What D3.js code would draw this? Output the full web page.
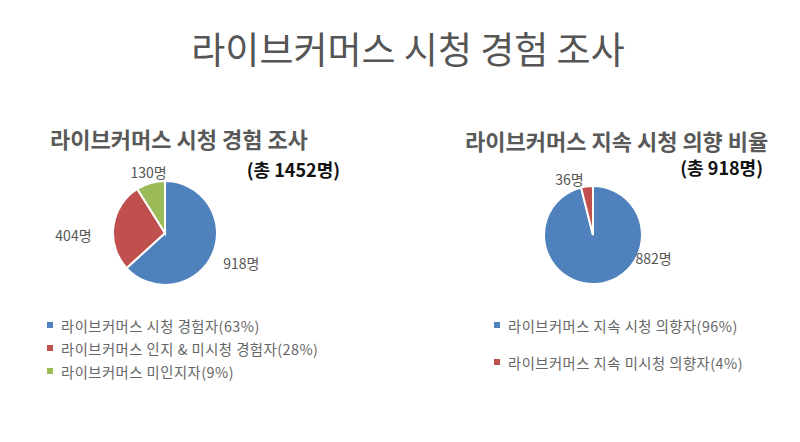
<!DOCTYPE html>
<html><head><meta charset="utf-8">
<script src="https://cdn.jsdelivr.net/npm/d3@7"></script>
<style>body{margin:0;background:#fff}svg{display:block}text{font-family:"Noto Sans CJK KR","Noto Sans",sans-serif}</style>
</head><body><svg id="c" width="800" height="442"></svg>
<script>
const mainTitle = "라이브커머스 시청 경험 조사";
const leftTitle = "라이브커머스 시청 경험 조사";
const leftTotal = "(총 1452명)";
const leftCategories = ["라이브커머스 시청 경험자(63%)","라이브커머스 인지 & 미시청 경험자(28%)","라이브커머스 미인지자(9%)"];
const leftValues = [918, 404, 130];
const rightTitle = "라이브커머스 지속 시청 의향 비율";
const rightTotal = "(총 918명)";
const rightCategories = ["라이브커머스 지속 시청 의향자(96%)","라이브커머스 지속 미시청 의향자(4%)"];
const rightValues = [882, 36];
const colors = ["#4F81BD","#C0504D","#9BBB59"];

const svg = d3.select("#c");
svg.append("text").attr("x",408).attr("y",64).attr("text-anchor","middle")
  .attr("font-size",37).attr("fill","#555").text(mainTitle);

function drawPie(cfg){
  const g = svg.append("g");
  g.append("text").attr("x",cfg.titleX).attr("y",cfg.titleY).attr("font-size",22).attr("font-weight",700)
    .attr("fill","#595959").text(cfg.title);
  g.append("text").attr("x",cfg.totalX).attr("y",cfg.totalY).attr("text-anchor","end").attr("font-size",18).attr("font-weight",700)
    .attr("fill","#111").text(cfg.total);
  const pie = d3.pie().sort(null).value(d=>d);
  const arc = d3.arc().innerRadius(0).outerRadius(cfg.r);
  const arcs = pie(cfg.values);
  const pg = g.append("g").attr("transform",`translate(${cfg.cx},${cfg.cy})`);
  pg.selectAll("path").data(arcs).join("path").attr("d",arc)
    .attr("fill",(d,i)=>colors[i]).attr("stroke","#fff").attr("stroke-width",2);
  const lab = d3.arc().innerRadius(cfg.r*cfg.lr).outerRadius(cfg.r*cfg.lr);
  pg.selectAll("text.l").data(arcs).join("text").attr("class","l")
    .attr("transform",(d,i)=>{const c=lab.centroid(d);return `translate(${c[0]+cfg.ldx[i]},${c[1]+cfg.ldy[i]})`;})
    .attr("text-anchor","middle").attr("dominant-baseline","central")
    .attr("font-size",14).attr("fill","#555").text(d=>d.value+"명");
  const lg = g.selectAll("g.lg").data(cfg.cats).join("g").attr("class","lg")
    .attr("transform",(d,i)=>`translate(${cfg.legX},${cfg.legY+i*cfg.legStep})`);
  lg.append("rect").attr("x",-3).attr("y",-3).attr("width",6).attr("height",6).attr("fill",(d,i)=>colors[i]);
  lg.append("text").attr("x",11).attr("y",0).attr("dominant-baseline","central").attr("font-size",14.3)
    .attr("letter-spacing",0.5).attr("fill","#666").text(d=>d);
}
drawPie({title:leftTitle,titleX:50,titleY:148,total:leftTotal,totalX:340,totalY:177,values:leftValues,cats:leftCategories,
  cx:165,cy:233,r:52,lr:1.35,ldx:[12,-22,3],ldy:[2,11,6],legX:50,legY:325,legStep:23});
drawPie({title:rightTitle,titleX:465,titleY:150,total:rightTotal,totalX:763,totalY:175,values:rightValues,cats:rightCategories,
  cx:593,cy:235,r:49,lr:1.25,ldx:[53,-16],ldy:[-38,5],legX:497,legY:325,legStep:37});
</script></body></html>
